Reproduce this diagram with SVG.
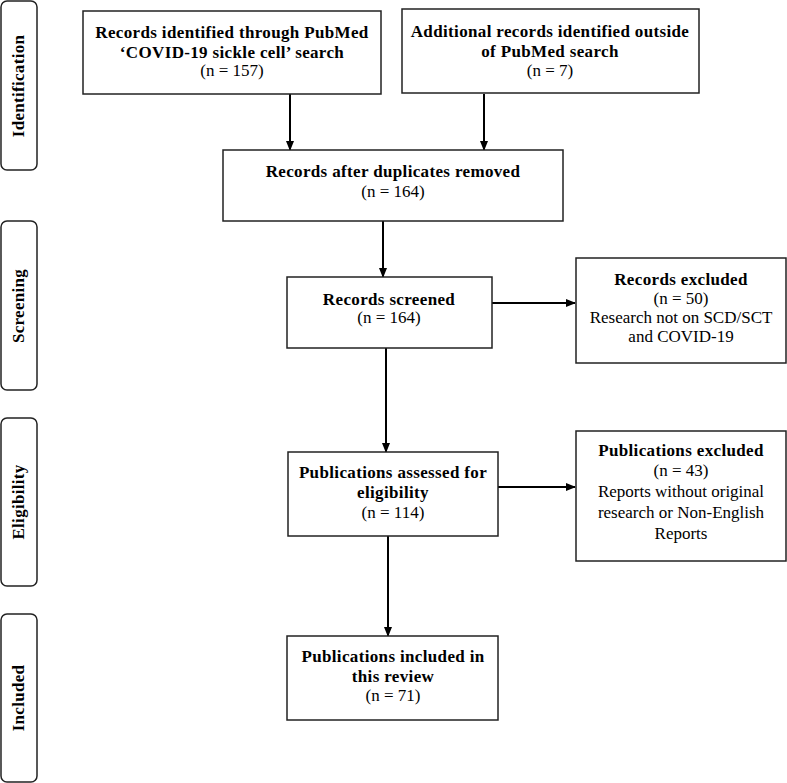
<svg xmlns="http://www.w3.org/2000/svg" width="787" height="783" viewBox="0 0 787 783">
<style>
.box{fill:#fff;stroke:#222;stroke-width:1.5}
.side{fill:#fff;stroke:#222;stroke-width:1.5}
text{font-family:"Liberation Serif","Times New Roman",serif;font-size:17px;fill:#000;text-anchor:middle}
.b{font-weight:bold;letter-spacing:0.35px}
.lab{font-weight:bold;font-size:17px;letter-spacing:0.3px}
.con{stroke:#000;stroke-width:2;fill:none;marker-end:url(#ah)}
</style>
<defs>
<marker id="ah" markerWidth="10" markerHeight="10" refX="9" refY="5" orient="auto" markerUnits="userSpaceOnUse">
<path d="M0,1 L10,5 L0,9 Z" fill="#000"/>
</marker>
</defs>
<rect width="787" height="783" fill="#fff"/>
<g id="phase-identification"><rect class="side" x="1" y="1" width="36" height="169" rx="6"/><text class="lab" transform="translate(24,86) rotate(-90)">Identification</text></g>
<g id="phase-screening"><rect class="side" x="1" y="221" width="36" height="169" rx="6"/><text class="lab" transform="translate(24,306) rotate(-90)">Screening</text></g>
<g id="phase-eligibility"><rect class="side" x="1" y="418" width="36" height="168" rx="6"/><text class="lab" transform="translate(24,502) rotate(-90)">Eligibility</text></g>
<g id="phase-included"><rect class="side" x="1" y="614" width="36" height="168" rx="6"/><text class="lab" transform="translate(24,698) rotate(-90)">Included</text></g>

<g id="connectors">
<line class="con" x1="290" y1="94" x2="290" y2="150"/>
<line class="con" x1="484" y1="94" x2="484" y2="150"/>
<line class="con" x1="383" y1="221" x2="383" y2="277"/>
<line class="con" x1="492" y1="303" x2="575" y2="303"/>
<line class="con" x1="386" y1="348" x2="386" y2="452"/>
<line class="con" x1="498" y1="487" x2="575" y2="487"/>
<line class="con" x1="388" y1="536" x2="388" y2="636"/>
</g>

<g id="n1"><rect class="box" x="83" y="11" width="298" height="83"/>
<text class="b" x="232" y="38">Records identified through PubMed</text>
<text class="b" x="232" y="58">‘COVID-19 sickle cell’ search</text>
<text x="232" y="76">(n = 157)</text></g>

<g id="n2"><rect class="box" x="402" y="9" width="297" height="84"/>
<text class="b" x="550" y="37">Additional records identified outside</text>
<text class="b" x="550" y="57">of PubMed search</text>
<text x="550" y="76">(n = 7)</text></g>

<g id="n3"><rect class="box" x="223" y="150" width="340" height="71"/>
<text class="b" x="393" y="177">Records after duplicates removed</text>
<text x="393" y="197">(n = 164)</text></g>

<g id="n4"><rect class="box" x="287" y="277" width="205" height="71"/>
<text class="b" x="389" y="305">Records screened</text>
<text x="389" y="323">(n = 164)</text></g>

<g id="n5"><rect class="box" x="576" y="258" width="210" height="105"/>
<text class="b" x="681" y="285">Records excluded</text>
<text x="681" y="304">(n = 50)</text>
<text x="681" y="323">Research not on SCD/SCT</text>
<text x="681" y="342">and COVID-19</text></g>

<g id="n6"><rect class="box" x="288" y="452" width="210" height="84"/>
<text class="b" x="393" y="478">Publications assessed for</text>
<text class="b" x="393" y="498">eligibility</text>
<text x="393" y="518">(n = 114)</text></g>

<g id="n7"><rect class="box" x="576" y="431" width="210" height="130"/>
<text class="b" x="681" y="456">Publications excluded</text>
<text x="681" y="476">(n = 43)</text>
<text x="681" y="497">Reports without original</text>
<text x="681" y="518">research or Non-English</text>
<text x="681" y="539">Reports</text></g>

<g id="n8"><rect class="box" x="287" y="636" width="211" height="84"/>
<text class="b" x="393" y="662">Publications included in</text>
<text class="b" x="393" y="682">this review</text>
<text x="393" y="701">(n = 71)</text></g>
</svg>
